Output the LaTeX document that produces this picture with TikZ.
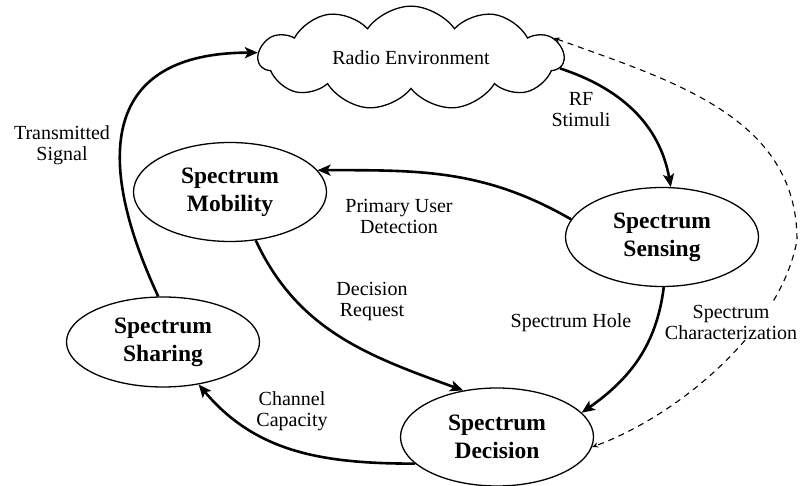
\documentclass[tikz,border=0pt]{standalone}
\usepackage{fontspec}
\setmainfont{Liberation Serif}
\usepackage{tikz}
\usetikzlibrary{shapes.geometric,shapes.symbols,arrows.meta}

\begin{document}
\begin{tikzpicture}
	[
		x=1pt, y=1pt,
		every node/.style={font=\fontsize{20}{21}\selectfont, align=center},
		block/.style={ellipse, draw, line width=1.3pt, minimum width=193pt, minimum height=99pt, inner sep=0pt, font=\fontsize{23.5}{28}\selectfont\bfseries},
		flow/.style={line width=2.6pt, -{Stealth[length=13pt,width=11pt,inset=3pt]}},
		feedback/.style={line width=1.1pt, dash pattern=on 6pt off 5pt, {Stealth[length=6pt,width=5pt]}-{Stealth[length=6pt,width=5pt]}}
	]
	\useasboundingbox (0,0) rectangle (803,486);

	\node(env) [cloud, draw, line width=1.3pt, cloud puffs=11, cloud puff arc=110, aspect=3, minimum width=305pt, minimum height=92pt, inner sep=0pt] at (411,428) {Radio Environment};

	\node(mobility) [block] at (230,294) {Spectrum\\Mobility};
	\node(sensing) [block] at (662,249) {Spectrum\\Sensing};
	\node(sharing) [block, minimum height=90pt] at (163,144) {Spectrum\\Sharing};
	\node(decision) [block, minimum height=98pt] at (497,49) {Spectrum\\Decision};

	% edge labels
	\node(ltrans) at (62,341) {Transmitted\\Signal};
	\node(lrf) at (581,376) {RF\\Stimuli};
	\node(lpud) at (399,270) {Primary User\\Detection};
	\node(lreq) at (372,184) {Decision\\Request};
	\node(lhole) at (571,163) {Spectrum Hole};
	\node(lcap) at (292,75) {Channel\\Capacity};

	% cognitive cycle
	\draw[flow] (sharing.96) to[out=115, in=180, looseness=1.5] (env.178);
	\draw[flow] (env.-4) to[out=-18, in=100] (sensing.80);
	\draw[flow] (sensing.169) to[out=150, in=0] (mobility.14);
	\draw[flow] (mobility.-62) to[out=-65, in=160] (decision.126);
	\draw[flow] (sensing.-88) to[out=-97, in=35] (decision.16);
	\draw[flow] (decision.198) to[out=180, in=-50] (sharing.-50);

	\coordinate(charpt) at (797,246);
	\draw[feedback] (env.8) to[out=-20, in=90] (charpt) to[out=-100, in=20, looseness=0.8] (decision.-6);
	\node(lchar) [fill=white, inner sep=1pt] at (731,164) {Spectrum\\Characterization};
\end{tikzpicture}
\end{document}
